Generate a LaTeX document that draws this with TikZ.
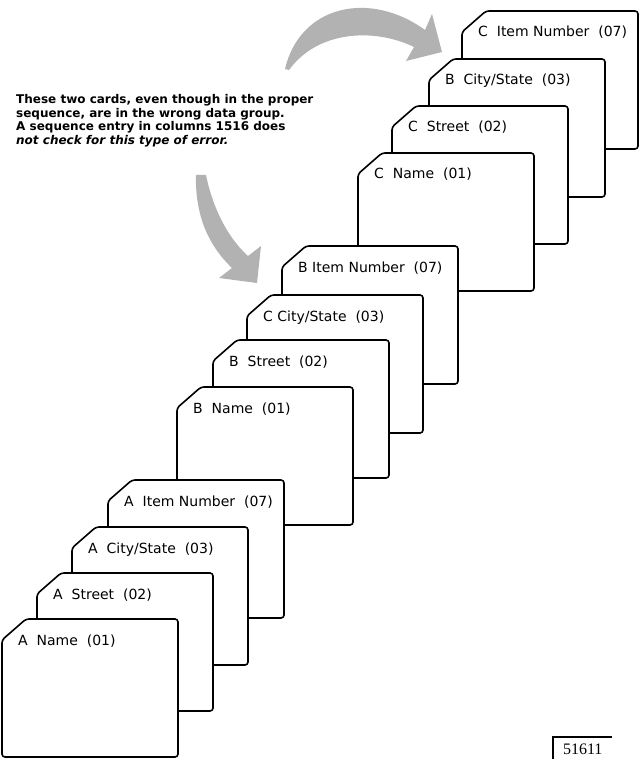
\documentclass[tikz,border=0pt]{standalone}
\usepackage{fontspec}
\setmainfont{DejaVu Sans}
\newfontfamily\numfont{Liberation Serif}
\usepackage{tikz}
\usetikzlibrary{patterns,positioning}

% one punched card: top left corner (#1,#2), node name #3, label #4
\newcommand{\datacard}[4]{%
  \draw[card] (#1,#2+21) -- ++(24,-21) -- ++(152,0) -- ++(0,138) -- ++(-176,0) -- cycle;
  \node[cardlabel] (#3) at (#1+16,#2+26) {#4};
}

\begin{document}
\begin{tikzpicture}[x=1pt,y=-1pt,
  card/.style={draw=black,fill=white,line width=1.6pt,rounded corners=3pt},
  cardlabel/.style={anchor=base west,inner sep=0pt,font=\fontsize{14}{16}\selectfont},
  stipple/.style={fill=black!30,draw=none}]
\useasboundingbox (0,0) rectangle (639,759);
% curved arrow over the top
\path[stipple] (285,69) .. controls (300,5) and (370,-10) .. (425,30)
  -- (432,14) -- (442,52) -- (406,61) -- (414,47)
  .. controls (375,28) and (318,30) .. (289,70) -- cycle;
% curved arrow down to the B group
\path[stipple] (196,175) .. controls (195,215) and (208,245) .. (232,268)
  -- (219,278) -- (257,283) -- (261,246) -- (248,256)
  .. controls (226,236) and (212,205) .. (206,175) -- cycle;
% note
\node[anchor=north west,inner sep=0pt,align=left,
  font=\bfseries\fontsize{12}{13.8}\selectfont] (note) at (16,94)
  {These two cards, even though in the proper\\
   sequence, are in the wrong data group.\\
   A sequence entry in columns 1516 does\\
   \itshape not check for this type of error.};
% C group (back)
\datacard{462}{11}{citem}{C~~Item~Number~~(07)}
\datacard{429}{59}{bcity}{B~~City/State~~(03)}
\datacard{392}{106}{cstreet}{C~~Street~~(02)}
\datacard{358}{153}{cname}{C~~Name~~(01)}
% B group
\datacard{282}{246}{bitem}{B~Item~Number~~(07)}
\datacard{247}{295}{ccity}{C~City/State~~(03)}
\datacard{213}{340}{bstreet}{B~~Street~~(02)}
\datacard{177}{387}{bname}{B~~Name~~(01)}
% A group (front)
\datacard{108}{480}{aitem}{A~~Item~Number~~(07)}
\datacard{72}{527}{acity}{A~~City/State~~(03)}
\datacard{37}{573}{astreet}{A~~Street~~(02)}
\datacard{2}{619}{aname}{A~~Name~~(01)}
% figure number
\node[anchor=north west,minimum width=59pt,minimum height=24pt,inner sep=0pt,
  font=\numfont\fontsize{16}{18}\selectfont] (figno) at (553,737) {51611};
\draw[line width=1.2pt] (figno.south west) -- (figno.north west) -- (figno.north east);
\end{tikzpicture}
\end{document}
